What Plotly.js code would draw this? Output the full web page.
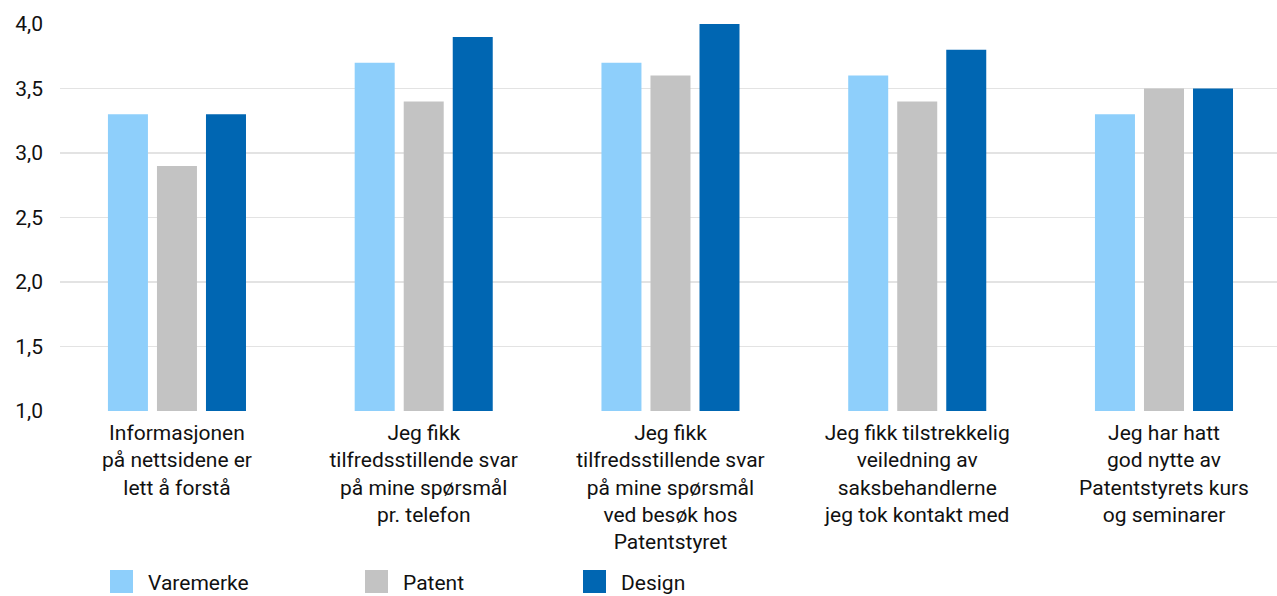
<!DOCTYPE html>
<html>
<head>
<meta charset="utf-8">
<script src="https://cdn.plot.ly/plotly-3.0.1.min.js"></script>
<style>html,body{margin:0;padding:0;background:#fff;}#chart{width:1277px;height:596px;}</style>
</head>
<body>
<div id="chart"></div>
<script>
const categories = [
  "Informasjonen<br>på nettsidene er<br>lett å forstå",
  "Jeg fikk<br>tilfredsstillende svar<br>på mine spørsmål<br>pr. telefon",
  "Jeg fikk<br>tilfredsstillende svar<br>på mine spørsmål<br>ved besøk hos<br>Patentstyret",
  "Jeg fikk tilstrekkelig<br>veiledning av<br>saksbehandlerne<br>jeg tok kontakt med",
  "Jeg har hatt<br>god nytte av<br>Patentstyrets kurs<br>og seminarer"
];
const seriesNames = ["Varemerke", "Patent", "Design"];
const varemerke = [3.3, 3.7, 3.7, 3.6, 3.3];
const patent = [2.9, 3.4, 3.6, 3.4, 3.5];
const design = [3.3, 3.9, 4.0, 3.8, 3.5];
const colors = ["#8ecffb", "#c3c3c3", "#0066b2"];
const yTicks = [1.0, 1.5, 2.0, 2.5, 3.0, 3.5, 4.0];

const values = [varemerke, patent, design];
const idx = categories.map((c, i) => i);
const traces = values.map((v, k) => ({
  type: "bar",
  x: idx,
  y: v,
  name: seriesNames[k],
  marker: {color: colors[k]},
  showlegend: false,
  hoverinfo: "y+name"
}));

const FONT = {family: "Roboto", size: 21, color: "#111111"};

// custom legend (large squares)
const legendX = [110, 365, 583];
const shapes = [];
const annotations = [];
seriesNames.forEach((n, k) => {
  shapes.push({type: "rect", xref: "paper", yref: "paper",
    x0: (legendX[k] - 60) / 1217, x1: (legendX[k] + 23 - 60) / 1217,
    y0: -(593 - 411) / 387, y1: -(570 - 411) / 387,
    fillcolor: colors[k], line: {width: 0}});
  annotations.push({xref: "paper", yref: "paper",
    x: (legendX[k] + 36 - 60) / 1217, y: -(583 - 411) / 387,
    xanchor: "left", yanchor: "middle", text: n, showarrow: false,
    font: FONT});
});

const layout = {
  width: 1277, height: 596,
  margin: {l: 60, r: 0, t: 24, b: 185},
  paper_bgcolor: "#fff", plot_bgcolor: "#fff",
  separators: ", ",
  barmode: "group",
  bargap: 0.404,
  bargroupgap: 0.184,
  showlegend: false,
  font: FONT,
  xaxis: {
    range: [-0.474, 4.458],
    tickmode: "array", tickvals: idx, ticktext: categories,
    showgrid: false, zeroline: false, showline: false,
    ticks: "", ticklabelstandoff: 7,
    tickfont: FONT
  },
  yaxis: {
    range: [1, 4], tickmode: "array", tickvals: yTicks,
    tickformat: ".1f",
    showgrid: true, gridcolor: "#e3e3e3", gridwidth: 1.3,
    zeroline: false, showline: false, ticks: "",
    ticklabelstandoff: 16,
    tickfont: FONT
  },
  shapes: shapes,
  annotations: annotations
};

Plotly.newPlot("chart", traces, layout, {displayModeBar: false, staticPlot: true});
</script>
</body>
</html>
